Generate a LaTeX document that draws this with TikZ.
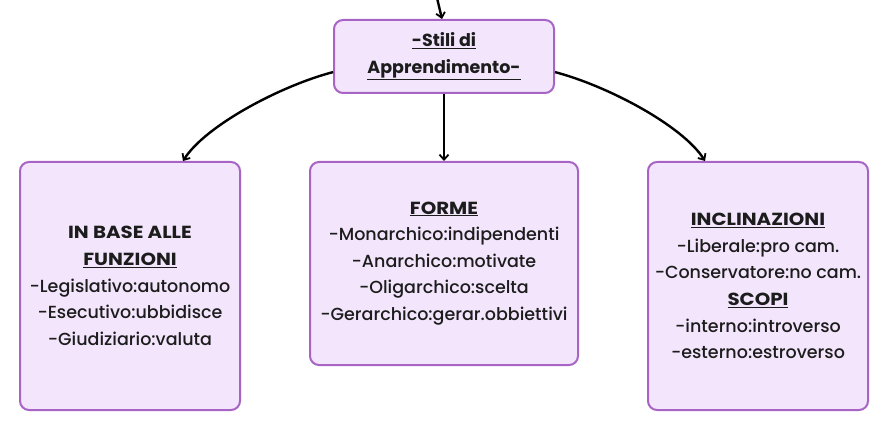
\documentclass[tikz,border=0pt]{standalone}
\usepackage{fontspec}
\setmainfont{Poppins}[UprightFont=* Medium,BoldFont=* Bold]
\newfontfamily\hdfont{Poppins}[UprightFont=* Medium,BoldFont=* Bold,FakeStretch=1.13]
\newcommand{\hd}[1]{{\hdfont\bfseries #1}}
\usetikzlibrary{arrows.meta,calc}
\definecolor{boxfill}{HTML}{F3E6FC}
\definecolor{boxline}{HTML}{A764C4}
\definecolor{txt}{HTML}{1C1C1C}
\begin{document}
\begin{tikzpicture}[x=1pt,y=1pt,
  box/.style={draw=boxline,fill=boxfill,line width=2pt,rounded corners=9pt,align=center,
    inner sep=0pt,text=txt,font=\fontsize{17.5}{26.6}\selectfont},
  conn/.style={line width=2.4pt,draw=black,-{Straight Barb[length=5pt,width=9pt,line width=1.8pt]}}]
\useasboundingbox (0,0) rectangle (888,431);
\node[box,minimum width=220pt,minimum height=73pt] (top) at (444,374.5)
  {\textbf{\underline{-Stili di}}\\\textbf{\underline{Apprendimento-}}};
\node[box,minimum width=220pt,minimum height=248pt] (left) at (130,145)
  {\hd{IN BASE ALLE}\\\underline{\hd{FUNZIONI}}\\-Legislativo:autonomo\\-Esecutivo:ubbidisce\\-Giudiziario:valuta};
\node[box,minimum width=268pt,minimum height=203pt] (mid) at (444,167.5)
  {\underline{\hd{FORME}}\\-Monarchico:indipendenti\\-Anarchico:motivate\\-Oligarchico:scelta\\-Gerarchico:gerar.obbiettivi};
\node[box,minimum width=220pt,minimum height=248pt] (right) at (758,145)
  {\underline{\hd{INCLINAZIONI}}\\-Liberale:pro cam.\\-Conservatore:no cam.\\\underline{\hd{SCOPI}}\\-interno:introverso\\-esterno:estroverso};
\coordinate (src) at (437,433);
\draw[conn] (src) -- ([xshift=-2pt]top.north);
\draw[conn] (top.south) -- (mid.north);
\draw[conn] (top.188) .. controls (280,345) and (205,305) .. ($(left.north)+(53,0)$);
\draw[conn] (top.-8) .. controls (608,345) and (683,305) .. ($(right.north)+(-53,0)$);
\end{tikzpicture}
\end{document}
